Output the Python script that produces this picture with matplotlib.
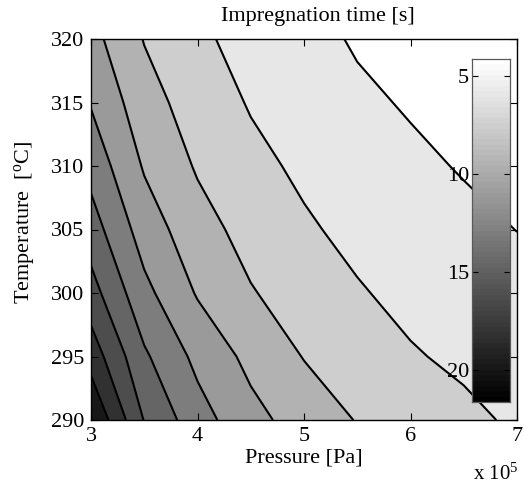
import numpy as np
import matplotlib
matplotlib.use("Agg")
import matplotlib.pyplot as plt
from matplotlib.colors import ListedColormap, Normalize

# pressure grid (x 10^5 Pa) and temperature grid (deg C)
pressure = [3.0, 3.5, 4.0, 4.5, 5.0, 5.5, 6.0, 6.5, 7.0]
temperature = [290, 295, 300, 305, 310, 315, 320]

# impregnation time [s], one row per temperature
impregnation_time = [
    [21.63, 16.30, 13.60, 11.67, 10.37, 9.30, 8.64, 7.99, 7.40],
    [19.13, 14.90, 12.42, 10.66, 9.31, 8.53, 7.77, 7.33, 6.89],
    [17.08, 13.36, 10.98, 9.50, 8.58, 7.77, 7.21, 6.81, 6.38],
    [15.44, 12.06, 10.05, 8.76, 7.85, 7.21, 6.72, 6.29, 5.86],
    [14.02, 10.96, 9.20, 8.07, 7.32, 6.70, 6.22, 5.76, 5.28],
    [12.75, 10.09, 8.55, 7.50, 6.88, 6.20, 5.72, 5.22, 4.71],
    [11.70, 9.30, 7.90, 7.12, 6.44, 5.70, 5.24, 4.68, 4.13],
]

contour_levels = [5.88, 7.63, 9.38, 11.13, 12.88, 14.63, 16.38, 18.13, 19.88]
x_ticks = [3, 4, 5, 6, 7]
y_ticks = [290, 295, 300, 305, 310, 315, 320]
cbar_ticks = [5, 10, 15, 20]

plt.rcParams["font.family"] = "Liberation Serif"
plt.rcParams["mathtext.fontset"] = "custom"
plt.rcParams["mathtext.rm"] = "Liberation Serif"
plt.rcParams["mathtext.it"] = "Liberation Serif:italic"

P, T = np.meshgrid(pressure, temperature)
Z = np.array(impregnation_time)
vmin, vmax = Z.min(), Z.max()

# 64-step grey map, white for short times
cmap = ListedColormap(np.repeat(np.linspace(1, 0, 64)[:, None], 3, axis=1))
norm = Normalize(vmin, vmax)

W, H = 524, 487
fig = plt.figure(figsize=(W / 100, H / 100), dpi=100)
ax = fig.add_axes([91 / W, 1 - 420 / H, 426 / W, 381 / H])

bounds = [vmin - 1] + contour_levels + [vmax + 1]
fill_colors = ["white"] + [cmap(norm(v)) for v in contour_levels]
ax.contourf(P, T, Z, levels=bounds, colors=fill_colors)
ax.contour(P, T, Z, levels=contour_levels, colors="k", linewidths=1.5)

ax.set_xlim(3, 7)
ax.set_ylim(290, 320)
ax.set_xticks(x_ticks)
ax.set_yticks(y_ticks)
ax.tick_params(direction="in", top=True, right=True, length=5, width=0.8,
               labelsize=16, pad=5)
for s in ax.spines.values():
    s.set_linewidth(1.0)

# colorbar drawn inside the axes, reversed
cax = fig.add_axes([472 / W, 1 - 402 / H, 38 / W, 343 / H])
edges = np.linspace(vmin, vmax, 65)
centers = (edges[:-1] + edges[1:]) / 2
cax.pcolormesh([0, 1], edges, centers[:, None], cmap=cmap, norm=norm)
cax.set_ylim(vmax, vmin)
cax.set_xticks([])
cax.set_yticks(cbar_ticks)
cax.tick_params(direction="in", left=True, right=True, length=4, width=0.8,
                labelsize=16, pad=2)
for s in cax.spines.values():
    s.set_color("0.35")
    s.set_linewidth(0.9)

fig.text(318 / W, 1 - 21 / H, "Impregnation time [s]", ha="center",
         va="baseline", fontsize=16)
fig.text(304 / W, 1 - 462 / H, "Pressure [Pa]", ha="center",
         va="baseline", fontsize=16)
fig.text(25 / W, 1 - 222 / H, r"Temperature  [$^{\rm o}$C]", ha="center",
         va="center", rotation=90, fontsize=16)
fig.text(473 / W, 1 - 480 / H, r"x 10$^{5}$", ha="left", va="baseline",
         fontsize=15)

fig.savefig("out.png", dpi=100)
